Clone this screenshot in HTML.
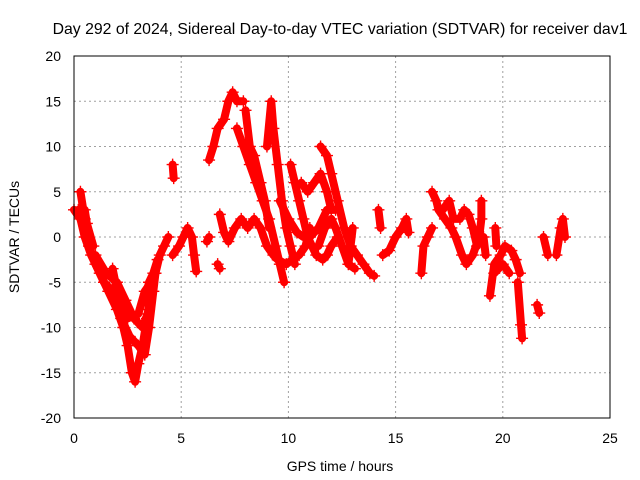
<!DOCTYPE html>
<html><head><meta charset="utf-8"><style>
body{margin:0;background:#fff}
svg{display:block;font-family:"Liberation Sans",sans-serif;font-size:14px}
</style></head><body>
<svg id="c" width="640" height="480">
<text x="340" y="34" text-anchor="middle" style="font-size:15.8px">Day 292 of 2024, Sidereal Day-to-day VTEC variation (SDTVAR) for receiver dav1</text>
<text x="340" y="471" text-anchor="middle">GPS time / hours</text>
<text transform="translate(19,237) rotate(-90)" text-anchor="middle">SDTVAR / TECUs</text>
<g id="grid"></g><g id="ticks"></g><g id="marks"></g>
<rect x="74" y="56" width="536" height="362" fill="none" stroke="#000" stroke-width="1"/>
</svg>
<script>
const xTicks=[0,5,10,15,20,25];
const yTicks=[-20,-15,-10,-5,0,5,10,15,20];
const tracks=[
[[0,3],[0.3,2],[0.5,0],[0.8,-2],[1.2,-4],[1.6,-6],[2.0,-8],[2.3,-10],[2.5,-12],[2.7,-15],[2.85,-16],[3.0,-14],[3.2,-12],[3.4,-9],[3.6,-6],[3.8,-4],[4.0,-2],[4.2,-1],[4.4,0]],
[[0.3,5],[0.5,2],[0.7,-1],[1.0,-3],[1.4,-5],[1.8,-6],[2.2,-9],[2.6,-11],[3.0,-12],[3.3,-13],[3.5,-10],[3.7,-6],[3.8,-4]],
[[0.2,3],[0.5,3],[0.6,1.5],[0.9,-1]],
[[1.0,-2],[1.5,-4],[2.0,-5],[2.4,-7],[2.8,-9],[3.2,-10],[3.5,-8]],
[[3.3,-7],[3.5,-5],[3.7,-4],[3.9,-2.5]],
[[1.8,-3.5],[2.1,-7],[2.5,-9],[3.0,-8.5],[3.3,-6],[3.6,-5]],
[[4.6,8],[4.65,6.5]],
[[4.6,-2],[4.9,-1],[5.1,0],[5.3,1],[5.5,0],[5.6,-2],[5.7,-3.8]],
[[6.3,8.5],[6.5,10],[6.7,12],[7.0,13],[7.2,15],[7.4,16],[7.6,15],[7.9,15]],
[[7.6,12],[7.9,10],[8.2,8],[8.5,6],[8.8,4],[9.1,2],[9.4,-1],[9.6,-3],[9.8,-5]],
[[8.0,14],[8.2,10],[8.4,9],[8.7,6],[8.9,4],[9.1,1]],
[[9.0,10],[9.2,15],[9.3,12],[9.5,8],[9.7,4],[9.9,1],[10.1,-1],[10.3,-3]],
[[6.8,2.5],[7.0,0.5],[7.2,-0.5],[7.5,1],[7.8,2],[8.1,1],[8.4,2],[8.7,1],[9.0,-1],[9.3,-2],[9.5,-2.5],[9.9,-3],[10.2,-2.5],[10.5,-2],[10.8,-1],[11.0,1]],
[[10.1,8],[10.3,6],[10.5,4],[10.7,2],[10.9,0],[11.1,-1],[11.3,-2],[11.6,-2.5],[11.8,-2],[12.0,-1],[12.3,0]],
[[10.6,6],[10.9,5],[11.2,6],[11.5,7],[11.8,5],[12.0,3]],
[[11.5,10],[11.8,9],[12.0,7],[12.3,4],[12.6,1],[12.9,-1],[13.2,-2],[13.5,-3],[13.8,-4],[14.0,-4.3]],
[[9.6,4],[10,2],[10.4,0.5],[10.7,0],[11,0],[11.4,1],[11.8,3],[12.2,3]],
[[11.4,-1],[11.7,1],[12.0,2],[12.2,1],[12.5,-1],[12.8,-3],[13.1,-3.5]],
[[12.8,-3],[12.9,-1],[13.0,1]],
[[14.2,3],[14.3,1]],
[[6.2,-0.5],[6.3,0]],
[[6.7,-3],[6.8,-3.5]],
[[14.4,-2],[14.7,-1.5],[15.0,0],[15.3,1],[15.5,2],[15.6,0.5]],
[[16.2,-4],[16.3,-1],[16.5,0],[16.7,1]],
[[16.7,5],[16.9,4],[17.0,3],[17.3,2],[17.6,1],[17.8,0],[18.1,-2],[18.3,-3],[18.6,-2],[18.9,0],[19.0,2],[19.0,4]],
[[17.2,3],[17.5,4],[17.7,2],[18.0,2],[18.2,3],[18.4,2.5],[18.6,1],[18.8,-1]],
[[19.1,0],[19.2,-2]],
[[19.4,-6.5],[19.6,-3],[19.9,-2],[20.1,-1],[20.4,-1.5],[20.6,-2.5],[20.8,-4]],
[[19.6,-4],[20.0,-3],[20.3,-4]],
[[19.65,1],[19.7,-1]],
[[20.7,-5],[20.85,-9.7],[20.9,-11.2]],
[[21.6,-7.5],[21.7,-8.4]],
[[21.9,0],[22.1,-2]],
[[22.5,-2],[22.7,1],[22.8,2],[22.9,0]]
];
const X0=74,X1=610,Y0=418,Y1=56;
function sx(h){return X0+(h-0)/(25-0)*(X1-X0);}
function sy(v){return Y0-(v+20)/40*(Y0-Y1);}
const NS="http://www.w3.org/2000/svg";
const grid=document.getElementById('grid'),ticks=document.getElementById('ticks'),marks=document.getElementById('marks');
function mk(tag,attrs,parent){const e=document.createElementNS(NS,tag);for(const k in attrs)e.setAttribute(k,attrs[k]);parent.appendChild(e);return e;}
xTicks.forEach(t=>{
 const x=sx(t);
 if(t>0&&t<25){const g=mk('line',{x1:x,x2:x,y1:Y0,y2:Y1,stroke:'#a0a0a0','stroke-dasharray':'2,3'},grid);
 
 }
 const l=mk('text',{x:x,y:443,'text-anchor':'middle'},ticks);l.textContent=t;
 
 
});
yTicks.forEach(t=>{
 const y=sy(t);
 if(t>-20&&t<20){const g=mk('line',{x1:X0,x2:X1,y1:y,y2:y,stroke:'#a0a0a0','stroke-dasharray':'2,3'},grid);
 
 }
 const l=mk('text',{x:61,y:y+5,'text-anchor':'end'},ticks);l.textContent=t;
 
 
});
tracks.forEach(tr=>{
 const p=mk('polyline',{points:tr.map(d=>sx(d[0])+','+sy(d[1])).join(' '),fill:'none',stroke:'#ff0000','stroke-width':8,'stroke-linejoin':'round','stroke-linecap':'round'},marks);
 
 
 tr.forEach(d=>{
  const x=sx(d[0]),y=sy(d[1]);
  const m=mk('path',{d:`M${x-6},${y}h12M${x},${y-6}v12`,stroke:'#ff0000','stroke-width':1.4},marks);
  
  
 });
});
</script>
</body></html>
